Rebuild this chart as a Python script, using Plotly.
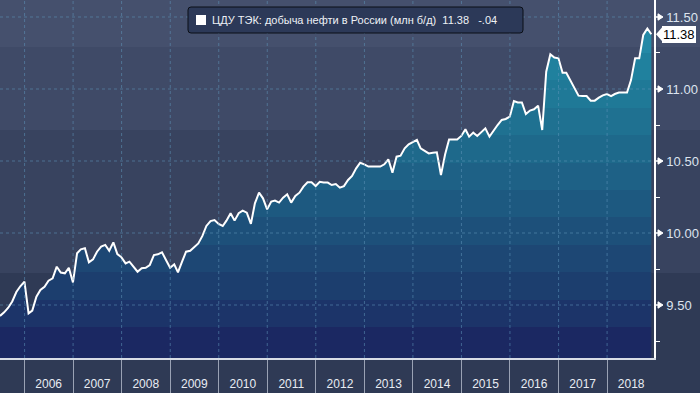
import pandas as pd
import plotly.graph_objects as go

# ---------------- data (monthly, month-end dates) ----------------
series_name = "ЦДУ ТЭК: добыча нефти в России (млн б/д)"
first_month_end = "2005-06-30"

prod_2005 = [9.424, 9.449, 9.481, 9.525, 9.590, 9.630, 9.662]  # Jun-Dec
prod_2006 = [9.442, 9.461, 9.558, 9.604, 9.627, 9.669, 9.685, 9.766, 9.725, 9.720, 9.759, 9.657]
prod_2007 = [9.859, 9.887, 9.894, 9.796, 9.817, 9.870, 9.905, 9.917, 9.877, 9.935, 9.854, 9.831]
prod_2008 = [9.789, 9.801, 9.766, 9.731, 9.755, 9.759, 9.778, 9.847, 9.852, 9.866, 9.813, 9.759]
prod_2009 = [9.782, 9.727, 9.801, 9.870, 9.877, 9.905, 9.928, 9.980, 10.049, 10.083, 10.090, 10.063]
prod_2010 = [10.049, 10.086, 10.137, 10.086, 10.137, 10.155, 10.141, 10.063, 10.206, 10.280, 10.241, 10.164]
prod_2011 = [10.218, 10.225, 10.211, 10.245, 10.269, 10.211, 10.257, 10.280, 10.322, 10.352, 10.352, 10.326]
prod_2012 = [10.356, 10.350, 10.350, 10.333, 10.340, 10.315, 10.326, 10.368, 10.396, 10.449, 10.488, 10.477]
prod_2013 = [10.461, 10.461, 10.461, 10.461, 10.477, 10.512, 10.419, 10.530, 10.537, 10.588, 10.616, 10.632]
prod_2014 = [10.646, 10.588, 10.572, 10.553, 10.558, 10.560, 10.403, 10.545, 10.650, 10.650, 10.650, 10.674]
prod_2015 = [10.720, 10.669, 10.697, 10.674, 10.704, 10.727, 10.669, 10.715, 10.750, 10.785, 10.792, 10.808]
prod_2016 = [10.917, 10.907, 10.907, 10.826, 10.850, 10.859, 10.884, 10.715, 11.120, 11.241, 11.218, 11.213]
prod_2017 = [11.113, 11.113, 11.062, 11.005, 10.954, 10.951, 10.951, 10.919, 10.919, 10.940, 10.956, 10.965]
prod_2018 = [10.951, 10.965, 10.975, 10.975, 10.975, 11.062, 11.213, 11.213, 11.375, 11.420, 11.380]  # Jan-Nov

year_labels = ["2006", "2007", "2008", "2009", "2010", "2011", "2012",
               "2013", "2014", "2015", "2016", "2017", "2018"]
y_tick_values = [9.5, 10.0, 10.5, 11.0, 11.5]
y_minor_values = [9.25, 9.75, 10.25, 10.75, 11.25]

values = (prod_2005 + prod_2006 + prod_2007 + prod_2008 + prod_2009 + prod_2010 +
          prod_2011 + prod_2012 + prod_2013 + prod_2014 + prod_2015 + prod_2016 +
          prod_2017 + prod_2018)
dates = pd.date_range(first_month_end, periods=len(values), freq="ME")

last_val = values[-1]
change = round(values[-1] - values[-2], 2)
chg_txt = f"{change:+.2f}".replace("+0.", "+.").replace("-0.", "-.")
NB = "\u00a0"
legend_text = f"{series_name}{NB*2}{last_val:.2f}{NB*3}{chg_txt}"

# ---------------- geometry / style ----------------
W, H = 700, 393
M_L, M_R, M_T, M_B = 0, 46, 0, 35
PW, PH = W - M_L - M_R, H - M_T - M_B
Y_TOP, Y_BOT = 11.618, 9.132
X_RANGE = ["2005-06-30", "2018-12-20"]
PX_PER_UNIT = PH / (Y_TOP - Y_BOT)

FONT = "Liberation Sans, Arial, sans-serif"
GRID = "rgba(95,150,185,0.55)"


def px(xp):
    """canvas pixel x -> paper fraction"""
    return (xp - M_L) / PW


def py(yp):
    """canvas pixel y -> paper fraction"""
    return 1 - (yp - M_T) / PH


# stepped vertical gradient for the area fill (bottom -> top)
band_px = [358, 327, 300, 272, 245, 217, 190, 163, 135, 108, 80, 53, 26, 0]
band_cols = ["#1b2862", "#1c3469", "#1c3e6e", "#1d4774", "#1d507a", "#1d5980",
             "#1e6186", "#1e698b", "#1f7191", "#1f7997", "#20819e", "#2489a6", "#2a92ae"]
cscale = []
for k, c in enumerate(band_cols):
    f0 = max(0.0, 1 - band_px[k] / PH)
    f1 = min(1.0, 1 - band_px[k + 1] / PH)
    cscale += [[f0, c], [f1, c]]

fig = go.Figure()

fig.add_trace(go.Scatter(
    x=dates, y=values, mode="lines", name=series_name,
    line=dict(color="white", width=2),
    fill="tozeroy",
    fillgradient=dict(type="vertical", colorscale=cscale, start=Y_BOT, stop=Y_TOP),
    showlegend=False, hoverinfo="skip",
))

shapes = []
# background bands (span whole canvas width)
bg_edges = [0, 47, 130, 273, H]
bg_cols = ["#45506d", "#3f4a67", "#38435f", "#2f3a55"]
for k, c in enumerate(bg_cols):
    shapes.append(dict(type="rect", xref="paper", yref="paper", layer="below",
                       x0=px(0), x1=px(W), y0=py(bg_edges[k + 1]), y1=py(bg_edges[k]),
                       fillcolor=c, line=dict(width=0)))

# dotted grid drawn above the area
year_bounds = [f"{y}-01-01" for y in year_labels]
for d in year_bounds:
    shapes.append(dict(type="line", xref="x", yref="paper", layer="above",
                       x0=d, x1=d, y0=0, y1=1, line=dict(color=GRID, width=1, dash="3px,3px")))
for v in y_tick_values:
    shapes.append(dict(type="line", xref="paper", yref="y", layer="above",
                       x0=0, x1=1, y0=v, y1=v, line=dict(color=GRID, width=1, dash="3px,3px")))

# right-pointing triangle tick marks at major y ticks
tri_h = 3.2 / PX_PER_UNIT
for v in y_tick_values:
    shapes.append(dict(type="path", xref="paper", yref="y", layer="above",
                       path=f"M {px(PW + 1)},{v} L {px(PW + 4)},{v} L {px(PW + 4)},{v + tri_h} "
                            f"L {px(PW + 9)},{v} L {px(PW + 4)},{v - tri_h} L {px(PW + 4)},{v} Z",
                       fillcolor="white", line=dict(color="white", width=1)))

# pointer of the last-value tag
dy = 8 / PX_PER_UNIT
shapes.append(dict(type="path", xref="paper", yref="y", layer="above",
                   path=f"M {px(PW + 2)},{last_val} L {px(PW + 9)},{last_val + dy} "
                        f"L {px(PW + 9)},{last_val - dy} Z",
                   fillcolor="white", line=dict(width=0)))

# legend box (rounded) + white square key
bx0, bx1, by0, by1, r = 188, 523, 7, 33, 3
path = (f"M {px(bx0 + r)},{py(by0)} L {px(bx1 - r)},{py(by0)} "
        f"Q {px(bx1)},{py(by0)} {px(bx1)},{py(by0 + r)} L {px(bx1)},{py(by1 - r)} "
        f"Q {px(bx1)},{py(by1)} {px(bx1 - r)},{py(by1)} L {px(bx0 + r)},{py(by1)} "
        f"Q {px(bx0)},{py(by1)} {px(bx0)},{py(by1 - r)} L {px(bx0)},{py(by0 + r)} "
        f"Q {px(bx0)},{py(by0)} {px(bx0 + r)},{py(by0)} Z")
shapes.append(dict(type="path", xref="paper", yref="paper", layer="above", path=path,
                   fillcolor="#2c3958", line=dict(color="#0b0f16", width=1)))
shapes.append(dict(type="rect", xref="paper", yref="paper", layer="above",
                   x0=px(196), x1=px(206), y0=py(25), y1=py(15),
                   fillcolor="white", line=dict(width=0)))

fig.update_layout(
    width=W, height=H,
    margin=dict(l=M_L, r=M_R, t=M_T, b=M_B),
    paper_bgcolor="#2f3a55",
    plot_bgcolor="rgba(0,0,0,0)",
    shapes=shapes,
    showlegend=False,
    xaxis=dict(
        type="date", range=X_RANGE, showgrid=False, zeroline=False,
        tickmode="array",
        tickvals=[f"{y}-07-01" for y in year_labels], ticktext=year_labels,
        ticks="outside", ticklen=14, tickcolor="rgba(0,0,0,0)",
        tickfont=dict(family=FONT, size=12, color="#e8ecf3"),
        showline=True, linecolor="#d9dde6", linewidth=1.5,
        minor=dict(tickmode="array", tickvals=year_bounds, ticks="outside",
                   ticklen=M_B, tickcolor="#9aa2b4", tickwidth=1, showgrid=False),
    ),
    yaxis=dict(
        side="right", range=[Y_BOT, Y_TOP], showgrid=False, zeroline=False,
        tickmode="array", tickvals=y_tick_values,
        ticktext=[f"{v:.2f}" for v in y_tick_values],
        ticks="outside", ticklen=8, tickwidth=1, tickcolor="rgba(0,0,0,0)",
        tickfont=dict(family=FONT, size=13, color="#dde4ef"),
        showline=True, linecolor="white", linewidth=1.5,
        minor=dict(tickmode="array", tickvals=y_minor_values, ticks="outside",
                   ticklen=4, tickcolor="white", tickwidth=1, showgrid=False),
    ),
    annotations=[
        dict(xref="paper", yref="y", x=1, y=last_val, xanchor="left", yanchor="middle",
             xshift=8, text=f"{last_val:.2f}", showarrow=False,
             font=dict(family=FONT, size=13, color="black"),
             bgcolor="white", borderwidth=0, borderpad=1),
        dict(xref="paper", yref="paper", x=px(210), y=py(20.5), xanchor="left", yanchor="middle",
             text=legend_text, showarrow=False,
             font=dict(family=FONT, size=11, color="#eef1f6")),
    ],
)

fig.write_html("out.html", config={"displayModeBar": False},
               post_script="document.body.style.margin='0';document.body.style.overflow='hidden';")
